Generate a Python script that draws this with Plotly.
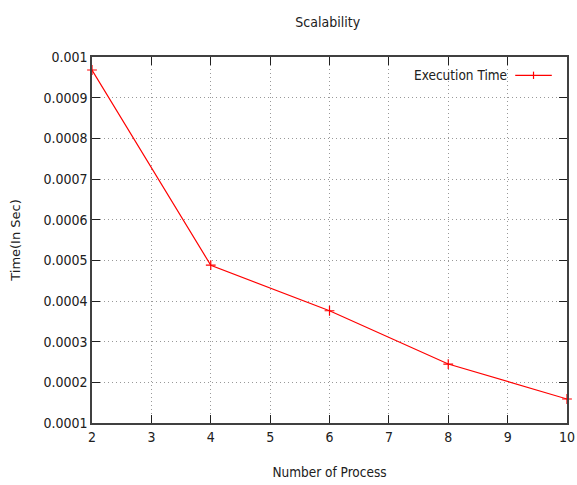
import plotly.graph_objects as go

processes = [2, 4, 6, 8, 10]
exec_time = [0.000968, 0.000488, 0.000376, 0.000245, 0.000159]

x_ticks = [2, 3, 4, 5, 6, 7, 8, 9, 10]
y_ticks = [0.0001, 0.0002, 0.0003, 0.0004, 0.0005, 0.0006, 0.0007, 0.0008, 0.0009, 0.001]
y_tick_labels = ["0.0001", "0.0002", "0.0003", "0.0004", "0.0005",
                 "0.0006", "0.0007", "0.0008", "0.0009", "0.001"]

FONT = "DejaVu Sans Condensed, DejaVu Sans, sans-serif"
RED = "#ff0000"

fig = go.Figure()
fig.add_trace(go.Scatter(
    x=processes, y=exec_time, mode="lines+markers",
    name="Execution Time",
    line=dict(color=RED, width=1.2),
    marker=dict(symbol="cross-thin", size=7, line=dict(color=RED, width=1.2)),
    showlegend=False, cliponaxis=False,
))

axis_common = dict(
    showline=True, linecolor="#404040", linewidth=1.5, mirror="ticks",
    ticks="inside", ticklen=8, tickcolor="#202020", tickwidth=1,
    showgrid=True, gridcolor="#999999", griddash="1px,3px", gridwidth=1,
    zeroline=False, automargin=False,
    tickfont=dict(family=FONT, size=14, color="#202020"),
)

fig.update_xaxes(
    range=[2, 10], tickvals=x_ticks,
    title=dict(text="Number of Process", font=dict(family=FONT, size=13.5, color="#202020"), standoff=24),
    **axis_common,
)
fig.update_yaxes(
    range=[0.0001, 0.001], tickvals=y_ticks, ticktext=y_tick_labels,
    title=dict(text="Time(In Sec)", font=dict(family="DejaVu Sans, sans-serif", size=13, color="#202020"), standoff=20),
    **axis_common,
)

# gnuplot-style key: text then sample line
fig.add_annotation(xref="paper", yref="paper", x=0.878, y=0.95, xanchor="right", yanchor="middle",
                   text="Execution Time", showarrow=False,
                   font=dict(family=FONT, size=13.5, color="#202020"))
fig.add_shape(type="line", xref="paper", yref="paper", x0=0.891, x1=0.968, y0=0.95, y1=0.95,
              line=dict(color=RED, width=1.2))
fig.add_shape(type="line", xref="paper", yref="paper", x0=0.9295, x1=0.9295, y0=0.94, y1=0.96,
              line=dict(color=RED, width=1.2))

fig.update_layout(
    width=577, height=485,
    margin=dict(l=92, r=10, t=57, b=62),
    paper_bgcolor="white", plot_bgcolor="white",
    title=dict(text="Scalability", x=0.568, xanchor="center", y=0.955, yanchor="middle",
               font=dict(family=FONT, size=14, color="#202020")),
)

fig.write_html("out.html", config={"displayModeBar": False},
               post_script="document.body.style.margin='0';document.body.style.padding='0';")
